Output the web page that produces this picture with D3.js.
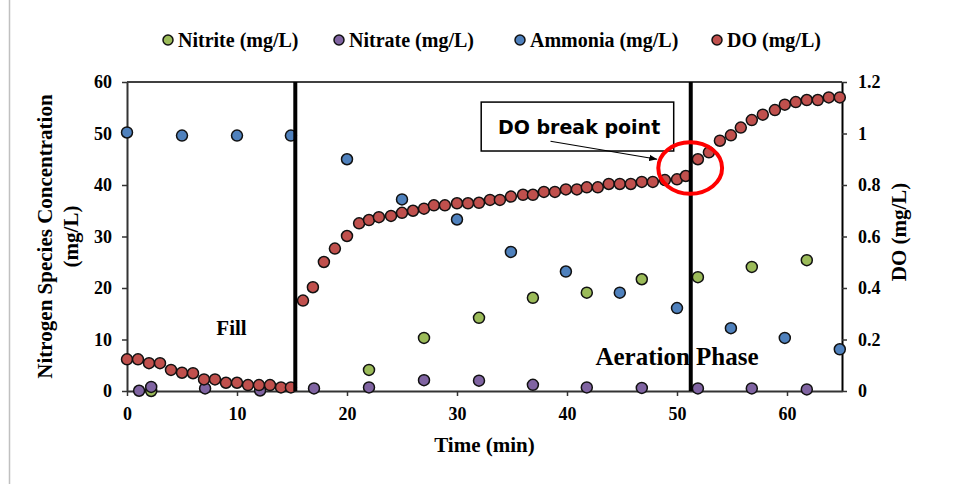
<!DOCTYPE html>
<html><head><meta charset="utf-8">
<script src="https://cdn.jsdelivr.net/npm/d3@7"></script>
<style>
html,body{margin:0;padding:0;background:#fff;}
svg{display:block;}
text{font-family:"Liberation Serif","Times New Roman",serif;font-weight:bold;fill:#000;}
</style></head>
<body>
<svg id="chart" width="969" height="484"></svg>
<script>
// ---- data ----
const doTime = [0,1,2,3,4,5,6,7,8,9,10,11,12,13,14,14.9,
  16,16.9,17.9,18.9,20,21.1,22,22.9,24,25,26,27,27.9,28.9,30,31,32,33,33.9,34.9,36,36.9,37.9,38.9,39.9,40.9,41.8,42.8,43.8,44.8,45.8,46.8,47.8,48.9,50,
  50.8,51.9,52.9,53.9,54.9,55.8,56.8,57.8,58.9,59.8,60.8,61.8,62.8,63.8,64.8];
const doValue = [0.123,0.123,0.108,0.108,0.082,0.071,0.069,0.045,0.045,0.032,0.032,0.023,0.023,0.023,0.014,0.014,
  0.351,0.403,0.501,0.553,0.602,0.651,0.664,0.675,0.680,0.692,0.700,0.708,0.721,0.721,0.729,0.729,0.731,0.742,0.742,0.755,0.762,0.762,0.773,0.773,0.783,0.783,0.791,0.791,0.804,0.804,0.804,0.812,0.812,0.819,0.822,
  0.835,0.900,0.927,0.972,0.993,1.023,1.052,1.073,1.091,1.112,1.122,1.130,1.130,1.140,1.140];

const ammoniaTime = [0,5,10,14.9,20,25,30,34.9,39.9,44.8,50,54.9,59.8,64.8];
const ammoniaValue = [50.2,49.6,49.6,49.6,45.0,37.2,33.3,27.0,23.2,19.1,16.1,12.2,10.3,8.1];

const nitriteTime = [2.2,22,27,32,36.9,41.8,46.8,51.9,56.8,61.8];
const nitriteValue = [0,4.1,10.3,14.2,18.1,19.1,21.7,22.1,24.1,25.4];

const nitrateTime = [1.1,2.2,7.1,12.1,17,22,27,32,36.9,41.8,46.8,51.9,56.8,61.8];
const nitrateValue = [0.05,0.8,0.5,0.1,0.5,0.7,2.1,2.0,1.2,0.7,0.6,0.5,0.5,0.3];

const xTicks = [0,10,20,30,40,50,60];
const yLeftTicks = [0,10,20,30,40,50,60];
const yRightTicks = [0,0.2,0.4,0.6,0.8,1,1.2];
const phaseBoundaries = [15.3, 51.25];

const legendLabels = ["Nitrite (mg/L)","Nitrate (mg/L)","Ammonia (mg/L)","DO (mg/L)"];
const colors = {nitrite:"#9bbb59", nitrate:"#8064a2", ammonia:"#4f81bd", do:"#c0504d"};

// ---- layout ----
const svg = d3.select("#chart");
const m = {left:127, right:842, top:82, bottom:391};
const x = d3.scaleLinear().domain([0,65]).range([m.left,m.right]);
const yL = d3.scaleLinear().domain([0,60]).range([m.bottom,m.top]);
const yR = d3.scaleLinear().domain([0,1.2]).range([m.bottom,m.top]);

// outer frame line
svg.append("line").attr("x1",9.5).attr("x2",9.5).attr("y1",0).attr("y2",484)
  .attr("stroke","#c0c0c0").attr("stroke-width",1.5);

// top border
svg.append("line").attr("x1",m.left).attr("x2",m.right).attr("y1",m.top).attr("y2",m.top)
  .attr("stroke","#000").attr("stroke-width",1.5);

// axes
const axL = svg.append("g").attr("transform",`translate(${m.left},0)`)
  .call(d3.axisLeft(yL).tickValues(yLeftTicks).tickSize(5).tickPadding(10).tickSizeOuter(0));
const axR = svg.append("g").attr("transform",`translate(${m.right},0)`)
  .call(d3.axisRight(yR).tickValues(yRightTicks).tickFormat(d=>d3.format("")(d)).tickSize(5).tickPadding(11).tickSizeOuter(0));
const axB = svg.append("g").attr("transform",`translate(0,${m.bottom})`)
  .call(d3.axisBottom(x).tickValues(xTicks).tickSize(5).tickPadding(11).tickSizeOuter(0));
[axL,axR,axB].forEach(a=>{
  a.selectAll("path").attr("stroke","#333").attr("stroke-width",2);
  a.selectAll("line").attr("stroke","#333").attr("stroke-width",1.5);
  a.selectAll("text").style("font-family","Liberation Serif, serif").style("font-weight","bold").style("font-size","18px").attr("fill","#000");
});
axR.select("path").attr("stroke","#000");

// axis titles
svg.append("text").attr("transform",`translate(52,${(m.top+m.bottom)/2}) rotate(-90)`)
  .attr("text-anchor","middle").style("font-size","21px").text("Nitrogen Species Concentration");
svg.append("text").attr("transform",`translate(78,${(m.top+m.bottom)/2}) rotate(-90)`)
  .attr("text-anchor","middle").style("font-size","21px").text("(mg/L)");
svg.append("text").attr("transform",`translate(906,232) rotate(-90)`)
  .attr("text-anchor","middle").style("font-size","21px").text("DO (mg/L)");
svg.append("text").attr("x",(m.left+m.right)/2).attr("y",452)
  .attr("text-anchor","middle").style("font-size","21px").text("Time (min)");

// series
function drawSeries(times, values, scale, color){
  svg.append("g").selectAll("circle").data(times).join("circle")
    .attr("cx",(d)=>x(d)).attr("cy",(d,i)=>scale(values[i])).attr("r",5.5)
    .attr("fill",color).attr("stroke","#111").attr("stroke-width",1.5);
}
drawSeries(nitriteTime, nitriteValue, yL, colors.nitrite);
drawSeries(nitrateTime, nitrateValue, yL, colors.nitrate);
drawSeries(ammoniaTime, ammoniaValue, yL, colors.ammonia);
drawSeries(doTime, doValue, yR, colors.do);

// phase lines
svg.append("g").selectAll("line").data(phaseBoundaries).join("line")
  .attr("x1",d=>x(d)).attr("x2",d=>x(d)).attr("y1",m.top).attr("y2",m.bottom)
  .attr("stroke","#000").attr("stroke-width",4);

// phase labels
svg.append("text").attr("x",x(9.5)).attr("y",yL(10.9)).attr("text-anchor","middle")
  .style("font-size","21px").text("Fill");
svg.append("text").attr("x",x(50)).attr("y",yL(5)).attr("text-anchor","middle")
  .style("font-size","25px").text("Aeration Phase");

// break point annotation
svg.append("defs").append("marker").attr("id","arr").attr("viewBox","0 0 10 10")
  .attr("refX",10).attr("refY",5).attr("markerWidth",8).attr("markerHeight",8)
  .attr("orient","auto").attr("markerUnits","userSpaceOnUse")
  .append("path").attr("d","M0,1 L10,5 L0,9 Z").attr("fill","#000");
svg.append("rect").attr("x",x(32.2)).attr("y",yL(56.1)).attr("width",x(49.7)-x(32.2)).attr("height",yL(46.6)-yL(56.1))
  .attr("fill","#fff").attr("stroke","#000").attr("stroke-width",1.5);
svg.append("text").attr("x",x(41.1)).attr("y",yL(50.0)).attr("text-anchor","middle")
  .style("font-family","DejaVu Sans, sans-serif").style("font-weight","bold").style("font-size","19px").text("DO break point");
svg.append("line").attr("x1",x(38.5)).attr("y1",yL(48.5)).attr("x2",x(48.2)).attr("y2",yL(45.0))
  .attr("stroke","#000").attr("stroke-width",1.2).attr("marker-end","url(#arr)");
svg.append("ellipse").attr("cx",x(51.2)).attr("cy",yL(43.3)).attr("rx",x(2.9)-x(0)).attr("ry",yL(0)-yL(5))
  .attr("fill","none").attr("stroke","#ff0000").attr("stroke-width",4);

// legend
const legendX = [168,339,520,717];
const legendColors = [colors.nitrite,colors.nitrate,colors.ammonia,colors.do];
const lg = svg.append("g").selectAll("g").data(legendLabels).join("g")
  .attr("transform",(d,i)=>`translate(${legendX[i]},40)`);
lg.append("circle").attr("r",5).attr("fill",(d,i)=>legendColors[i]).attr("stroke","#111").attr("stroke-width",1.5);
lg.append("text").attr("x",10).attr("y",7).style("font-size","20px").text(d=>d);
</script>
</body></html>
